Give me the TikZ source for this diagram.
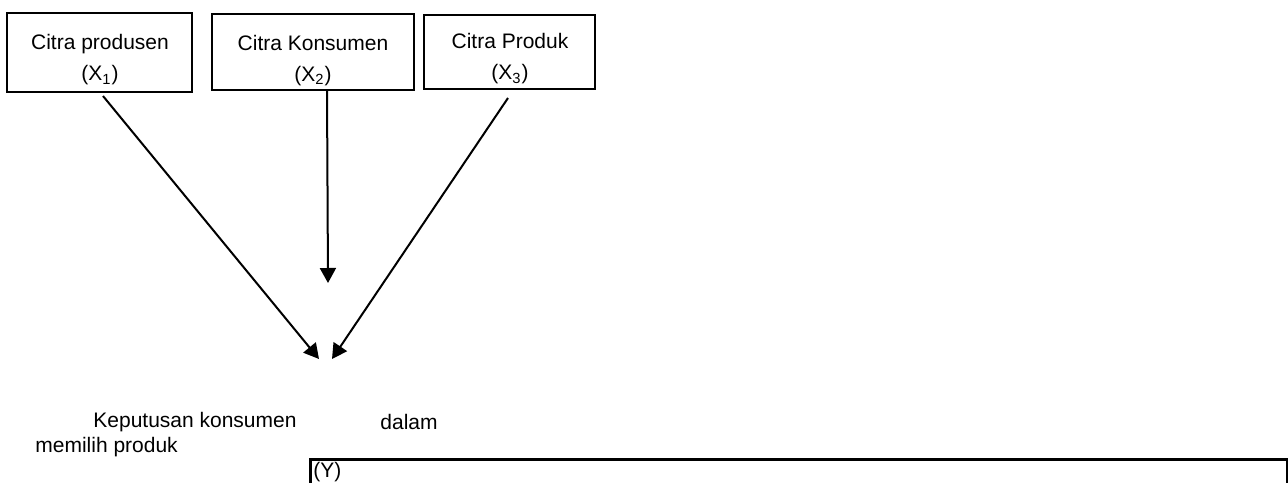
\documentclass[tikz,border=0pt]{standalone}
\usepackage{fontspec}
\setmainfont{Liberation Sans}
\usetikzlibrary{arrows.meta,calc}

\tikzset{
  varbox/.style={draw, line width=1pt, rectangle, inner sep=0pt},
  varlabel/.style={align=center, inner sep=0pt,
    font=\fontsize{10.5}{15.5}\selectfont},
  plain/.style={inner sep=0pt, font=\fontsize{10.5}{12}\selectfont},
  link/.style={line width=1pt, -{Triangle[length=7.5pt,width=8pt]}}
}

\begin{document}
\begin{tikzpicture}[x=0.5pt,y=-0.5pt]
  \clip (0,0) rectangle (1288,482);
  \fill[white] (0,0) rectangle (1288,482);

  % independent variables
  \node (x1) [varbox, minimum width=92.5pt, minimum height=39.5pt] at (99.5,52.5) {};
  \node (x2) [varbox, minimum width=101pt, minimum height=38pt] at (313,52) {};
  \node (x3) [varbox, minimum width=85.5pt, minimum height=37pt] at (509.5,52) {};

  \node (x1t) [varlabel] at (100,60) {Citra produsen\\(X\textsubscript{1})};
  \node (x2t) [varlabel] at (313,60.5) {Citra Konsumen\\(X\textsubscript{2})};
  \node (x3t) [varlabel] at (510,59) {Citra Produk\\(X\textsubscript{3})};

  % arrow tips
  \coordinate (t1) at (319,359);
  \coordinate (t2) at (328,283);
  \coordinate (t3) at (332,359);

  \draw[link] ([shift={(3.5,3)}]x1.south) -- (t1);
  \draw[link] ([shift={(14,0)}]x2.south) -- (t2);
  \draw[link] ([shift={(-1.5,8)}]x3.south) -- (t3);

  % dependent variable
  \node (k1) [plain, anchor=west] at (93,422) {Keputusan konsumen};
  \node (k2) [plain, anchor=west] at (380,422) {dalam};
  \node (k3) [plain, anchor=west] at (35,447) {memilih produk};

  \node (y) [draw, line width=1.3pt, rectangle, inner sep=0pt, anchor=north west,
             minimum width=488.5pt, minimum height=40pt] at (309,458) {};
  \node (yt) [plain, anchor=west] at (313,472) {(Y)};
\end{tikzpicture}
\end{document}
